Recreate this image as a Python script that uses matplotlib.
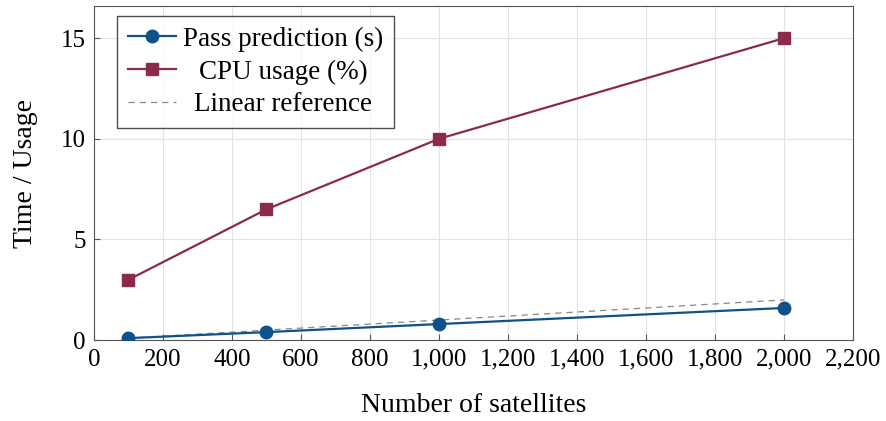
import numpy as np
import matplotlib.pyplot as plt
from matplotlib.ticker import FuncFormatter

satellites = [100, 500, 1000, 2000]
pass_prediction = [0.1, 0.4, 0.8, 1.6]
cpu_usage = [3, 6.5, 10, 15]
linear_ref = [0.1, 2.0]
linear_x = [100, 2000]

plt.rcParams['font.family'] = ['Liberation Serif', 'DejaVu Serif']


def draw_chart():
    fig = plt.figure(figsize=(8.86, 4.21), dpi=100)
    ax = fig.add_axes([0.106, 0.192, 0.857, 0.794])

    ax.plot(satellites, pass_prediction, color='#0f5189', marker='o',
            markersize=9, linewidth=1.6, label='Pass prediction (s)', zorder=3)
    ax.plot(satellites, cpu_usage, color='#8b2a4a', marker='s',
            markersize=8.2, linewidth=1.6, label='CPU usage (%)', zorder=3)
    ax.plot(linear_x, linear_ref, color='#888888', linestyle=(0, (5, 4)),
            linewidth=0.9, label='Linear reference', zorder=2)

    ax.set_xlim(0, 2200)
    ax.set_ylim(0, 16.6)
    ax.set_xticks(np.arange(0, 2201, 200))
    ax.set_yticks([0, 5, 10, 15])
    ax.xaxis.set_major_formatter(FuncFormatter(lambda v, p: f"{v:,.0f}"))
    ax.grid(True, color='#e3e3e3', linewidth=0.8)
    ax.set_axisbelow(True)
    ax.tick_params(direction='in', labelsize=18, color='#555555', length=4)
    ax.tick_params(axis='x', pad=6)
    ax.tick_params(axis='y', pad=6)
    for s in ax.spines.values():
        s.set_color('#555555')

    ax.set_xlabel('Number of satellites', fontsize=20, labelpad=16)
    ax.set_ylabel('Time / Usage', fontsize=20, labelpad=16)

    leg = ax.legend(loc='upper left', fontsize=19.5, frameon=True, fancybox=False,
                    edgecolor='#222222', borderpad=0.4, handlelength=1.8,
                    handletextpad=0.25, labelspacing=0.28, borderaxespad=0,
                    bbox_to_anchor=(0.030, 0.970))
    leg.get_frame().set_linewidth(1.0)

    # centre the legend labels in their column, as in the reference
    fig.canvas.draw()
    boxes = [t.get_window_extent() for t in leg.get_texts()]
    left = min(b.x0 for b in boxes)
    right = max(b.x1 for b in boxes)
    cx = (left + right) / 2
    for t, b in zip(leg.get_texts(), boxes):
        shift = cx - (b.x0 + b.x1) / 2
        x, y = t.get_position()
        t.set_position((x + shift, y))

    plt.savefig('out.png', dpi=100)


if __name__ == '__main__':
    draw_chart()
